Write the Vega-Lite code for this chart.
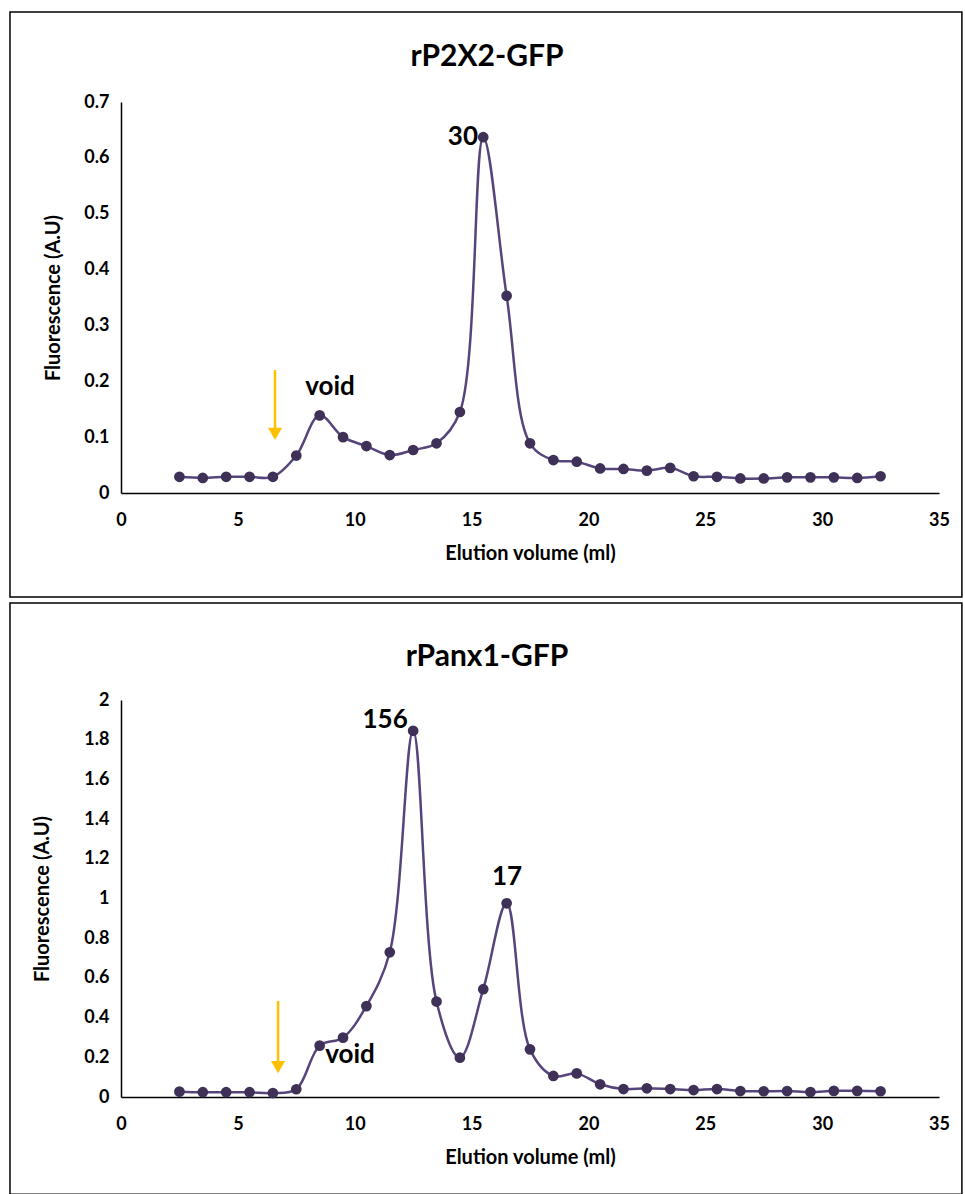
{
  "$schema": "https://vega.github.io/schema/vega-lite/v6.json",
  "autosize": {"type": "pad"},
  "padding": {"left": 9, "top": 11, "right": 0, "bottom": -1},
  "background": "white",
  "config": {
    "view": {"stroke": null},
    "font": "Lato",
    "axis": {
      "domainColor": "black", "domainWidth": 1.5, "ticks": false, "grid": false, "labelOverlap": false, "labelFlush": false,
      "labelFont": "Lato", "labelFontWeight": "bold", "labelFontSize": 18, "labelColor": "black",
      "titleFont": "Lato", "titleFontWeight": "bold", "titleFontSize": 20, "titleColor": "black"
    },
    "axisY": {"labelOverlap": false, "labelSeparation": 0},
    "axisQuantitative": {"labelOverlap": false},
    "title": {"font": "Lato", "fontWeight": "bold", "fontSize": 30, "color": "black", "frame": "group", "anchor": "middle"}
  },
  "datasets": {
    "p2x2": [
      {"vol": 2.5, "fl": 0.029}, {"vol": 3.5, "fl": 0.027}, {"vol": 4.5, "fl": 0.029}, {"vol": 5.5, "fl": 0.029},
      {"vol": 6.5, "fl": 0.029}, {"vol": 7.5, "fl": 0.067}, {"vol": 8.5, "fl": 0.139}, {"vol": 9.5, "fl": 0.100},
      {"vol": 10.5, "fl": 0.084}, {"vol": 11.5, "fl": 0.068}, {"vol": 12.5, "fl": 0.077}, {"vol": 13.5, "fl": 0.089},
      {"vol": 14.5, "fl": 0.145}, {"vol": 15.5, "fl": 0.637}, {"vol": 16.5, "fl": 0.353}, {"vol": 17.5, "fl": 0.089},
      {"vol": 18.5, "fl": 0.059}, {"vol": 19.5, "fl": 0.056}, {"vol": 20.5, "fl": 0.044}, {"vol": 21.5, "fl": 0.043},
      {"vol": 22.5, "fl": 0.040}, {"vol": 23.5, "fl": 0.045}, {"vol": 24.5, "fl": 0.030}, {"vol": 25.5, "fl": 0.029},
      {"vol": 26.5, "fl": 0.026}, {"vol": 27.5, "fl": 0.026}, {"vol": 28.5, "fl": 0.028}, {"vol": 29.5, "fl": 0.028},
      {"vol": 30.5, "fl": 0.028}, {"vol": 31.5, "fl": 0.027}, {"vol": 32.5, "fl": 0.030}
    ],
    "panx1": [
      {"vol": 2.5, "fl": 0.027}, {"vol": 3.5, "fl": 0.024}, {"vol": 4.5, "fl": 0.024}, {"vol": 5.5, "fl": 0.024},
      {"vol": 6.5, "fl": 0.020}, {"vol": 7.5, "fl": 0.039}, {"vol": 8.5, "fl": 0.259}, {"vol": 9.5, "fl": 0.299},
      {"vol": 10.5, "fl": 0.458}, {"vol": 11.5, "fl": 0.729}, {"vol": 12.5, "fl": 1.845}, {"vol": 13.5, "fl": 0.481},
      {"vol": 14.5, "fl": 0.198}, {"vol": 15.5, "fl": 0.543}, {"vol": 16.5, "fl": 0.976}, {"vol": 17.5, "fl": 0.240},
      {"vol": 18.5, "fl": 0.106}, {"vol": 19.5, "fl": 0.119}, {"vol": 20.5, "fl": 0.064}, {"vol": 21.5, "fl": 0.040},
      {"vol": 22.5, "fl": 0.044}, {"vol": 23.5, "fl": 0.040}, {"vol": 24.5, "fl": 0.035}, {"vol": 25.5, "fl": 0.040},
      {"vol": 26.5, "fl": 0.030}, {"vol": 27.5, "fl": 0.029}, {"vol": 28.5, "fl": 0.030}, {"vol": 29.5, "fl": 0.025},
      {"vol": 30.5, "fl": 0.031}, {"vol": 31.5, "fl": 0.031}, {"vol": 32.5, "fl": 0.029}
    ],
    "p2x2_labels": [
      {"vol": 14.63, "fl": 0.637, "label": "30"},
      {"vol": 8.94, "fl": 0.19, "label": "void"}
    ],
    "panx1_labels": [
      {"vol": 11.3, "fl": 1.9, "label": "156"},
      {"vol": 16.52, "fl": 1.11, "label": "17"},
      {"vol": 9.8, "fl": 0.212, "label": "void"}
    ],
    "p2x2_arrow": [{"vol": 6.59, "top": 0.22, "head": 0.106}],
    "panx1_arrow": [{"vol": 6.72, "top": 0.484, "head": 0.151}]
  },
  "vconcat": [
    {
      "width": 818, "height": 391,
      "title": {"text": "rP2X2-GFP", "dx": -43, "offset": -61},
      "layer": [
        {
          "data": {"name": "p2x2"},
          "mark": {"type": "line", "interpolate": "catmull-rom", "color": "#56457c", "strokeWidth": 2.5},
          "encoding": {
            "x": {"field": "vol", "type": "quantitative", "scale": {"domain": [0, 35], "nice": false}, "axis": {"values": [0, 5, 10, 15, 20, 25, 30, 35], "title": "Elution volume (ml)", "labelPadding": 18, "titlePadding": 14}},
            "y": {"field": "fl", "type": "quantitative", "scale": {"domain": [0, 0.7], "nice": false}, "axis": {"values": [0, 0.1, 0.2, 0.3, 0.4, 0.5, 0.6, 0.7], "labelExpr": "format(datum.value, '~g')", "labelOverlap": false, "title": "Fluorescence (A.U)", "labelPadding": 12, "titlePadding": 20}}
          }
        },
        {
          "data": {"name": "p2x2"},
          "mark": {"type": "point", "filled": true, "opacity": 1, "color": "#3f3058", "size": 115},
          "encoding": {
            "x": {"field": "vol", "type": "quantitative"},
            "y": {"field": "fl", "type": "quantitative"}
          }
        },
        {
          "data": {"name": "p2x2_arrow"},
          "mark": {"type": "rule", "color": "#FFC000", "strokeWidth": 2.5},
          "encoding": {
            "x": {"field": "vol", "type": "quantitative"},
            "y": {"field": "top", "type": "quantitative"},
            "y2": {"field": "head"}
          }
        },
        {
          "data": {"name": "p2x2_arrow"},
          "mark": {"type": "point", "shape": "triangle-down", "filled": true, "opacity": 1, "color": "#FFC000", "size": 200},
          "encoding": {
            "x": {"field": "vol", "type": "quantitative"},
            "y": {"field": "head", "type": "quantitative"}
          }
        },
        {
          "data": {"name": "p2x2_labels"},
          "mark": {"type": "text", "font": "Lato", "fontWeight": "bold", "fontSize": 26, "color": "black", "align": "center", "baseline": "middle"},
          "encoding": {
            "x": {"field": "vol", "type": "quantitative"},
            "y": {"field": "fl", "type": "quantitative"},
            "text": {"field": "label"}
          }
        },
        {
          "data": {"values": [{}]},
          "mark": {"type": "rect", "fill": null, "stroke": "black", "strokeWidth": 1.5, "clip": false},
          "encoding": {
            "x": {"datum": -4.75, "type": "quantitative"},
            "x2": {"datum": 35.98},
            "y": {"datum": 0.861, "type": "quantitative"},
            "y2": {"datum": -0.186}
          }
        }
      ]
    },
    {
      "width": 818, "height": 397,
      "title": {"text": "rPanx1-GFP", "dx": -43, "offset": -70},
      "layer": [
        {
          "data": {"name": "panx1"},
          "mark": {"type": "line", "interpolate": "catmull-rom", "color": "#56457c", "strokeWidth": 2.5},
          "encoding": {
            "x": {"field": "vol", "type": "quantitative", "scale": {"domain": [0, 35], "nice": false}, "axis": {"values": [0, 5, 10, 15, 20, 25, 30, 35], "title": "Elution volume (ml)", "labelPadding": 18, "titlePadding": 14}},
            "y": {"field": "fl", "type": "quantitative", "scale": {"domain": [0, 2], "nice": false}, "axis": {"values": [0, 0.2, 0.4, 0.6, 0.8, 1, 1.2, 1.4, 1.6, 1.8, 2], "labelExpr": "format(datum.value, '~g')", "labelOverlap": false, "labelSeparation": 0, "tickCount": 11, "title": "Fluorescence (A.U)", "labelPadding": 12, "titlePadding": 31}}
          }
        },
        {
          "data": {"name": "panx1"},
          "mark": {"type": "point", "filled": true, "opacity": 1, "color": "#3f3058", "size": 115},
          "encoding": {
            "x": {"field": "vol", "type": "quantitative"},
            "y": {"field": "fl", "type": "quantitative"}
          }
        },
        {
          "data": {"name": "panx1_arrow"},
          "mark": {"type": "rule", "color": "#FFC000", "strokeWidth": 2.5},
          "encoding": {
            "x": {"field": "vol", "type": "quantitative"},
            "y": {"field": "top", "type": "quantitative"},
            "y2": {"field": "head"}
          }
        },
        {
          "data": {"name": "panx1_arrow"},
          "mark": {"type": "point", "shape": "triangle-down", "filled": true, "opacity": 1, "color": "#FFC000", "size": 200},
          "encoding": {
            "x": {"field": "vol", "type": "quantitative"},
            "y": {"field": "head", "type": "quantitative"}
          }
        },
        {
          "data": {"name": "panx1_labels"},
          "mark": {"type": "text", "font": "Lato", "fontWeight": "bold", "fontSize": 26, "color": "black", "align": "center", "baseline": "middle"},
          "encoding": {
            "x": {"field": "vol", "type": "quantitative"},
            "y": {"field": "fl", "type": "quantitative"},
            "text": {"field": "label"}
          }
        },
        {
          "data": {"values": [{}]},
          "mark": {"type": "rect", "fill": null, "stroke": "black", "strokeWidth": 1.5, "clip": false},
          "encoding": {
            "x": {"datum": -4.75, "type": "quantitative"},
            "x2": {"datum": 35.98},
            "y": {"datum": 2.489, "type": "quantitative"},
            "y2": {"datum": -0.49}
          }
        }
      ]
    }
  ],
  "spacing": 207,
  "bounds": "flush"
}
